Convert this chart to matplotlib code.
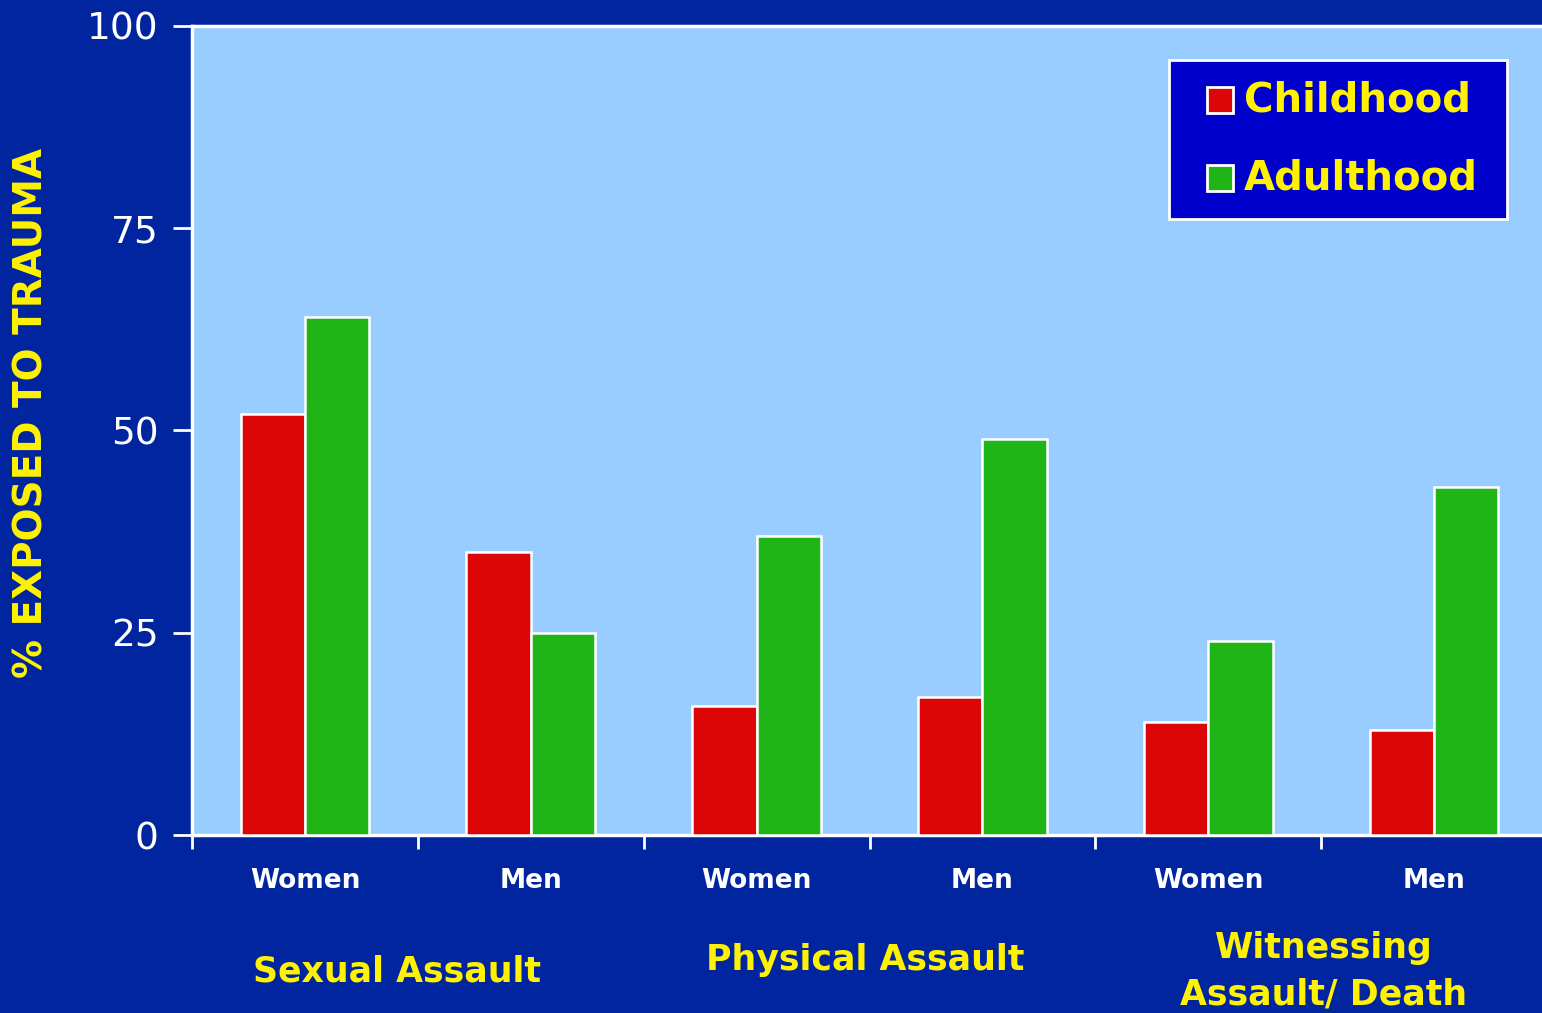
import matplotlib
matplotlib.use("Agg")
import matplotlib.pyplot as plt
import numpy as np
from matplotlib.patches import Rectangle

# Trauma exposure by life stage (%)
groups = ["Women", "Men", "Women", "Men", "Women", "Men"]
categories = ["Sexual Assault", "Physical Assault", "Witnessing\nAssault/ Death"]
childhood = [52, 35, 16, 17, 14, 13]
adulthood = [64, 25, 37, 49, 24, 43]
series_names = ["Childhood", "Adulthood"]
y_ticks = [0, 25, 50, 75, 100]

BG = "#00259E"
PLOT_BG = "#99CCFF"
RED = "#DD0606"
GREEN = "#20B517"
YELLOW = "#FFF200"
LEGEND_BG = "#0000CC"

W, H = 1542, 1013
plt.rcParams["font.family"] = ["DejaVu Sans"]

fig = plt.figure(figsize=(W / 100, H / 100), dpi=100, facecolor=BG)
ax = fig.add_axes([192 / W, 1 - 835 / H, 1355 / W, (835 - 26) / H])
ax.set_facecolor(PLOT_BG)

x = np.arange(len(groups)) + 0.5
w = 0.285
ax.bar(x - w / 2, childhood, width=w, color=RED, edgecolor="white", linewidth=1.8, zorder=3)
ax.bar(x + w / 2, adulthood, width=w, color=GREEN, edgecolor="white", linewidth=1.8, zorder=3)

ax.set_xlim(0, len(groups))
ax.set_ylim(0, 100)

# y axis
ax.set_yticks(y_ticks)
ax.set_yticklabels([str(v) for v in y_ticks])
ax.tick_params(axis="y", colors="white", length=14, width=2, pad=10, labelsize=27)

# x axis: boundary ticks, labels centred under each pair
ax.set_xticks(np.arange(len(groups) + 1), minor=True)
ax.set_xticks(x)
ax.set_xticklabels(groups, color="white", fontsize=19, fontweight="bold")
ax.tick_params(axis="x", which="major", length=0, pad=24)
ax.tick_params(axis="x", which="minor", colors="white", length=10, width=2)

for side in ["left", "bottom", "top"]:
    ax.spines[side].set_color("white")
    ax.spines[side].set_linewidth(2.5)
ax.spines["right"].set_visible(False)

# group labels beneath the axis
group_pos = [(397, 971), (865, 960), (1324, 971)]
for name, (px, py) in zip(categories, group_pos):
    fig.text(px / W, 1 - py / H, name, color=YELLOW, fontsize=25,
             fontweight="bold", ha="center", va="center", linespacing=1.45)

# y-axis title
fig.text(32 / W, 1 - 413 / H, "% EXPOSED TO TRAUMA", color=YELLOW,
         fontsize=28, fontweight="bold", rotation=90, ha="center", va="center")

# legend box
tf = fig.transFigure
fig.patches.append(Rectangle((1169 / W, 1 - 219 / H), (1507 - 1169) / W, (219 - 60) / H,
                             transform=tf, facecolor=LEGEND_BG, edgecolor="white",
                             linewidth=2, zorder=5))
for name, color, cy in zip(series_names, [RED, GREEN], [100, 178]):
    fig.patches.append(Rectangle((1207 / W, 1 - (cy + 13) / H), 26 / W, 26 / H,
                                 transform=tf, facecolor=color, edgecolor="white",
                                 linewidth=2, zorder=6))
    fig.text(1244 / W, 1 - cy / H, name, color=YELLOW, fontsize=29,
             fontweight="bold", ha="left", va="center", zorder=7)

fig.savefig("out.png", dpi=100, facecolor=BG)
